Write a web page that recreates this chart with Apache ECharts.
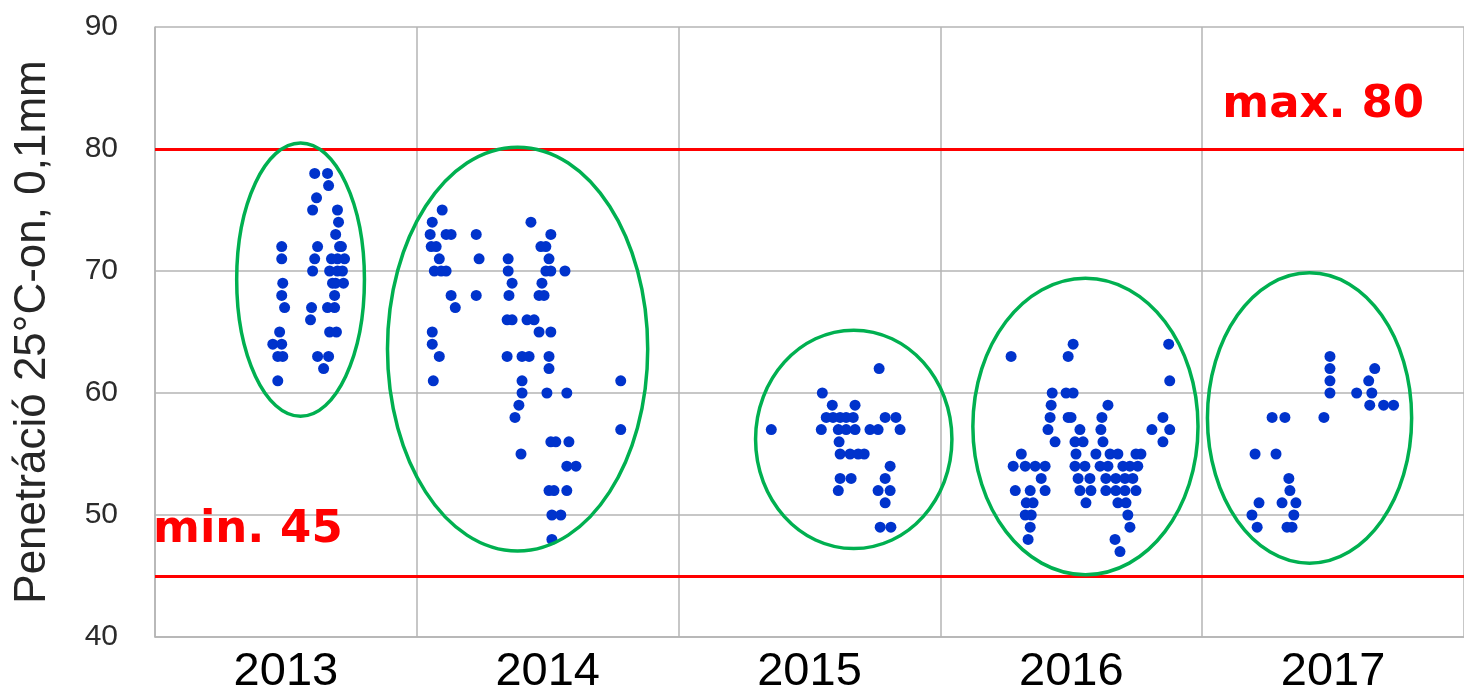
<!DOCTYPE html>
<html>
<head>
<meta charset="utf-8">
<script src="https://cdn.jsdelivr.net/npm/echarts@6/dist/echarts.min.js"></script>
<style>
  html, body { margin: 0; padding: 0; background: #fff; }
  #chart { width: 1464px; height: 697px; }
</style>
</head>
<body>
<div id="chart"></div>
<script>
// Penetration samples at 25 °C (0.1 mm), positioned by decimal year of sampling
const years = ['2013', '2014', '2015', '2016', '2017'];

const samples2013 = [
  [2013.610, 78], [2013.659, 78], [2013.663, 77], [2013.617, 76], [2013.602, 75],
  [2013.697, 75], [2013.701, 74], [2013.690, 73], [2013.484, 72], [2013.484, 71],
  [2013.621, 72], [2013.610, 71], [2013.602, 70], [2013.705, 72], [2013.697, 71],
  [2013.674, 71], [2013.724, 71], [2013.667, 70], [2013.697, 70], [2013.716, 70],
  [2013.678, 69], [2013.690, 69], [2013.686, 68], [2013.686, 67], [2013.659, 67],
  [2013.488, 69], [2013.484, 68], [2013.495, 67], [2013.598, 67], [2013.594, 66],
  [2013.667, 65], [2013.693, 65], [2013.476, 65], [2013.450, 64], [2013.484, 64],
  [2013.488, 63], [2013.469, 63], [2013.621, 63], [2013.663, 63], [2013.644, 62],
  [2013.469, 61], [2013.712, 72], [2013.720, 69]
];

const samples2014 = [
  [2014.097, 75], [2014.059, 74], [2014.051, 73], [2014.112, 73], [2014.131, 73],
  [2014.227, 73], [2014.055, 72], [2014.074, 72], [2014.086, 71], [2014.238, 71],
  [2014.067, 70], [2014.093, 70], [2014.112, 70], [2014.131, 68], [2014.227, 68],
  [2014.147, 67], [2014.059, 65], [2014.059, 64], [2014.086, 63], [2014.063, 61],
  [2014.436, 74], [2014.349, 71], [2014.349, 70], [2014.364, 69], [2014.352, 68],
  [2014.345, 66], [2014.364, 66], [2014.421, 66], [2014.448, 66], [2014.345, 63],
  [2014.402, 63], [2014.429, 63], [2014.402, 61], [2014.402, 60], [2014.390, 59],
  [2014.375, 58], [2014.398, 55], [2014.512, 73], [2014.474, 72], [2014.493, 72],
  [2014.505, 71], [2014.493, 70], [2014.512, 70], [2014.566, 70], [2014.478, 69],
  [2014.467, 68], [2014.486, 68], [2014.467, 65], [2014.512, 65], [2014.505, 63],
  [2014.505, 62], [2014.779, 61], [2014.497, 60], [2014.573, 60], [2014.779, 57],
  [2014.512, 56], [2014.531, 56], [2014.581, 56], [2014.573, 54], [2014.608, 54],
  [2014.505, 52], [2014.524, 52], [2014.573, 52], [2014.516, 50], [2014.550, 50],
  [2014.516, 48]
];

const samples2015 = [
  [2015.354, 57], [2015.766, 62], [2015.549, 60], [2015.587, 59], [2015.674, 59],
  [2015.564, 58], [2015.590, 58], [2015.617, 58], [2015.640, 58], [2015.667, 58],
  [2015.545, 57], [2015.610, 57], [2015.640, 57], [2015.674, 57], [2015.731, 57],
  [2015.762, 57], [2015.789, 58], [2015.830, 58], [2015.846, 57], [2015.613, 56],
  [2015.617, 55], [2015.655, 55], [2015.686, 55], [2015.709, 55], [2015.808, 54],
  [2015.617, 53], [2015.659, 53], [2015.789, 53], [2015.610, 52], [2015.762, 52],
  [2015.808, 52], [2015.789, 51], [2015.770, 49], [2015.811, 49]
];

const samples2016 = [
  [2016.270, 63], [2016.507, 64], [2016.488, 63], [2016.872, 64], [2016.876, 61],
  [2016.427, 60], [2016.480, 60], [2016.507, 60], [2016.423, 59], [2016.640, 59],
  [2016.419, 58], [2016.488, 58], [2016.499, 58], [2016.617, 58], [2016.850, 58],
  [2016.411, 57], [2016.533, 57], [2016.613, 57], [2016.808, 57], [2016.876, 57],
  [2016.438, 56], [2016.514, 56], [2016.545, 56], [2016.621, 56], [2016.850, 56],
  [2016.309, 55], [2016.518, 55], [2016.594, 55], [2016.648, 55], [2016.678, 55],
  [2016.747, 55], [2016.766, 55], [2016.278, 54], [2016.324, 54], [2016.362, 54],
  [2016.400, 54], [2016.514, 54], [2016.552, 54], [2016.610, 54], [2016.640, 54],
  [2016.697, 54], [2016.724, 54], [2016.754, 54], [2016.385, 53], [2016.526, 53],
  [2016.571, 53], [2016.632, 53], [2016.670, 53], [2016.705, 53], [2016.735, 53],
  [2016.286, 52], [2016.343, 52], [2016.400, 52], [2016.533, 52], [2016.575, 52],
  [2016.632, 52], [2016.670, 52], [2016.705, 52], [2016.747, 52], [2016.328, 51],
  [2016.354, 51], [2016.556, 51], [2016.678, 51], [2016.709, 51], [2016.324, 50],
  [2016.347, 50], [2016.716, 50], [2016.343, 49], [2016.724, 49], [2016.335, 48],
  [2016.667, 48], [2016.686, 47]
];

const samples2017 = [
  [2017.488, 63], [2017.488, 62], [2017.488, 61], [2017.488, 60], [2017.659, 62],
  [2017.636, 61], [2017.590, 60], [2017.648, 60], [2017.640, 59], [2017.693, 59],
  [2017.731, 59], [2017.267, 58], [2017.316, 58], [2017.465, 58], [2017.202, 55],
  [2017.282, 55], [2017.331, 53], [2017.335, 52], [2017.217, 51], [2017.305, 51],
  [2017.358, 51], [2017.190, 50], [2017.350, 50], [2017.210, 49], [2017.324, 49],
  [2017.343, 49]
];

// Specification limits
const upperLimit = 80;
const lowerLimit = 45;

// Highlight ellipses per year: [centre year, centre value, half-width (years), half-height (value)]
const groupEllipses = [
  [2013.556, 69.3, 0.244, 11.2],
  [2014.385, 63.6, 0.497, 16.55],
  [2015.669, 56.2, 0.375, 8.95],
  [2016.554, 57.25, 0.430, 12.15],
  [2017.410, 57.95, 0.390, 11.9]
];

const chart = echarts.init(document.getElementById('chart'), null, { renderer: 'canvas' });

const gridColor = '#b4b4b4';
const dotColor = '#0033cc';

const scatter = (data) => ({
  type: 'scatter',
  xAxisIndex: 0,
  yAxisIndex: 0,
  data: data,
  symbol: 'circle',
  symbolSize: 11,
  itemStyle: { color: dotColor, opacity: 1 },
  silent: true,
  z: 3
});

const series = [samples2013, samples2014, samples2015, samples2016, samples2017].map(scatter);

series[0].markLine = {
  silent: true,
  symbol: ['none', 'none'],
  lineStyle: { color: '#ff0000', width: 3, type: 'solid' },
  label: {
    color: '#ff0000',
    fontFamily: 'DejaVu Sans',
    fontWeight: 'bold',
    fontSize: 45
  },
  data: [
    { yAxis: upperLimit, label: { formatter: 'max. ' + upperLimit, position: 'insideEndTop', distance: [40, 21] } },
    { yAxis: lowerLimit, label: { formatter: 'min. ' + lowerLimit, position: 'insideStartTop', distance: [-2, 23] } }
  ]
};

chart.setOption({
  animation: false,
  backgroundColor: '#ffffff',
  grid: { left: 155, top: 27, width: 1312, height: 610 },
  xAxis: [
    {
      type: 'value',
      min: 2013,
      max: 2018,
      interval: 1,
      axisLine: { show: false },
      axisTick: { show: false },
      axisLabel: { show: false },
      splitLine: { show: true, lineStyle: { color: gridColor, width: 1.5 } }
    },
    {
      type: 'category',
      data: years,
      boundaryGap: true,
      position: 'bottom',
      axisLine: { show: true, lineStyle: { color: gridColor, width: 1.5 } },
      axisTick: { show: false },
      splitLine: { show: false },
      axisLabel: {
        color: '#000000',
        fontFamily: 'Liberation Sans',
        fontSize: 47,
        margin: 12
      }
    }
  ],
  yAxis: {
    type: 'value',
    min: 40,
    max: 90,
    interval: 10,
    name: 'Penetráció 25°C-on, 0,1mm',
    nameLocation: 'middle',
    nameGap: 100,
    nameTextStyle: {
      color: '#262626',
      fontFamily: 'Liberation Sans',
      fontSize: 44
    },
    axisLine: { show: true, lineStyle: { color: gridColor, width: 1.5 } },
    axisTick: { show: false },
    axisLabel: {
      color: '#2b2b2b',
      fontFamily: 'Liberation Sans',
      fontSize: 30,
      margin: 37
    },
    splitLine: { show: true, lineStyle: { color: gridColor, width: 1.5 } }
  },
  series: series
});

// Place the ellipses using the chart's own coordinate conversion
const ellipseGraphics = groupEllipses.map(([cx, cy, rx, ry]) => {
  const c = chart.convertToPixel({ gridIndex: 0 }, [cx, cy]);
  const e = chart.convertToPixel({ gridIndex: 0 }, [cx + rx, cy + ry]);
  return {
    type: 'ellipse',
    silent: true,
    z: 10,
    shape: { cx: c[0], cy: c[1], rx: Math.abs(e[0] - c[0]), ry: Math.abs(c[1] - e[1]) },
    style: { fill: 'none', stroke: '#00b050', lineWidth: 3.5 }
  };
});

chart.setOption({ graphic: ellipseGraphics });
</script>
</body>
</html>
